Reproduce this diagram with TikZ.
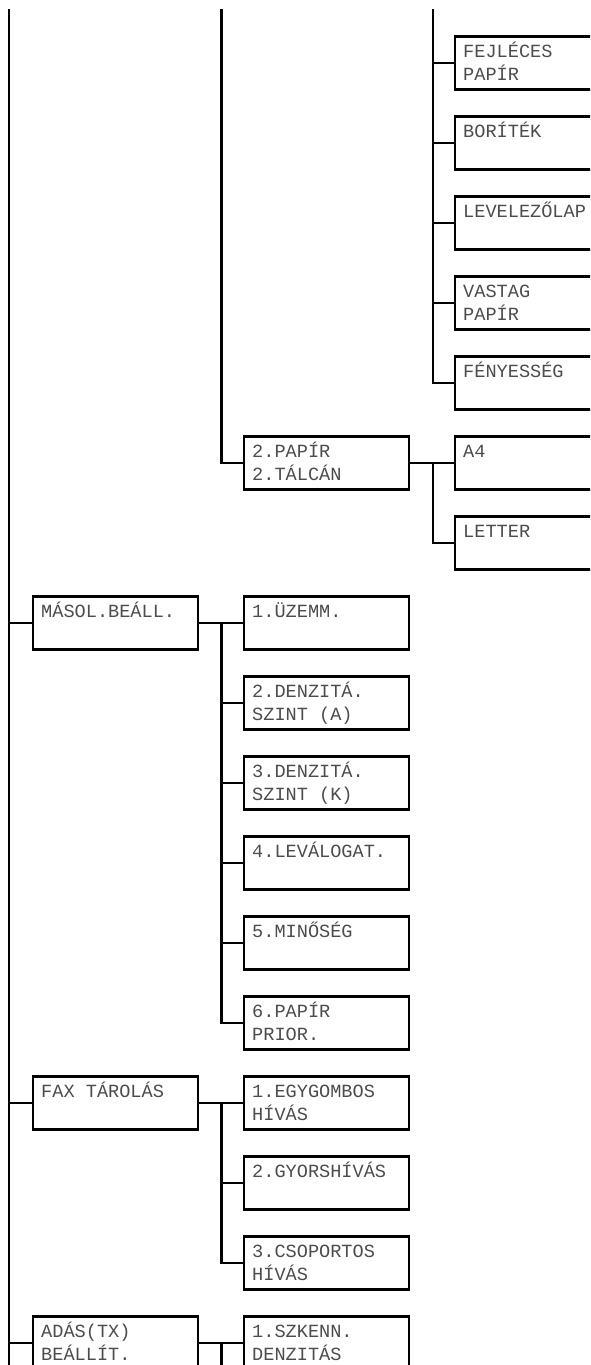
\documentclass[tikz,border=0pt]{standalone}
\usepackage{fontspec}
\setmonofont{Liberation Mono}
\newcommand\twol[2]{\vtop{\baselineskip=23.5pt\hbox{#1}\hbox{#2}}}
\tikzset{
  box/.style={draw=black, line width=2.1pt, minimum width=165pt, minimum height=53pt,
              inner sep=0pt, outer sep=0pt, anchor=north west},
  wbox/.style={box, minimum width=200pt},
  txt/.style={anchor=base west, inner sep=0pt, font=\ttfamily\fontsize{18.6}{23.5}\selectfont, text=black!70},
  ln/.style={line width=2.1pt, draw=black}
}
\begin{document}
\begin{tikzpicture}[x=1pt,y=-1pt]
\useasboundingbox (0,0) rectangle (590,1365);
\clip (0,0) rectangle (590,1365);
% right column
\node[wbox] (fej) at (455,36.5) {};
\node[wbox] (bor) at (455,116.5) {};
\node[wbox] (lev) at (455,196.5) {};
\node[wbox] (vas) at (455,276.5) {};
\node[wbox] (fen) at (455,356.5) {};
\node[wbox] (a4) at (455,436.5) {};
\node[wbox] (letter) at (455,516.5) {};
% middle column
\node[box] (p2) at (244,436.5) {};
\node[box] (m1) at (244,596.5) {};
\node[box] (m2) at (244,676.5) {};
\node[box] (m3) at (244,756.5) {};
\node[box] (m4) at (244,836.5) {};
\node[box] (m5) at (244,916.5) {};
\node[box] (m6) at (244,996.5) {};
\node[box] (f1) at (244,1076.5) {};
\node[box] (f2) at (244,1156.5) {};
\node[box] (f3) at (244,1236.5) {};
\node[box] (s1) at (244,1316.5) {};
% left column
\node[box] (masol) at (33,596.5) {};
\node[box] (fax) at (33,1076.5) {};
\node[box] (adas) at (33,1316.5) {};
% texts
\node[txt] (fejt) at ([shift={(8,20.5)}]fej.north west) {\twol{FEJLÉCES}{PAPÍR}};
\node[txt] (bort) at ([shift={(8,20.5)}]bor.north west) {BORÍTÉK};
\node[txt] (levt) at ([shift={(8,20.5)}]lev.north west) {LEVELEZŐLAP};
\node[txt] (vast) at ([shift={(8,20.5)}]vas.north west) {\twol{VASTAG}{PAPÍR}};
\node[txt] (fent) at ([shift={(8,20.5)}]fen.north west) {FÉNYESSÉG};
\node[txt] (a4t) at ([shift={(8,20.5)}]a4.north west) {A4};
\node[txt] (lettert) at ([shift={(8,20.5)}]letter.north west) {LETTER};
\node[txt] (p2t) at ([shift={(8,20.5)}]p2.north west) {\twol{2.PAPÍR}{2.TÁLCÁN}};
\node[txt] (m1t) at ([shift={(8,20.5)}]m1.north west) {1.ÜZEMM.};
\node[txt] (m2t) at ([shift={(8,20.5)}]m2.north west) {\twol{2.DENZITÁ.}{SZINT (A)}};
\node[txt] (m3t) at ([shift={(8,20.5)}]m3.north west) {\twol{3.DENZITÁ.}{SZINT (K)}};
\node[txt] (m4t) at ([shift={(8,20.5)}]m4.north west) {4.LEVÁLOGAT.};
\node[txt] (m5t) at ([shift={(8,20.5)}]m5.north west) {5.MINŐSÉG};
\node[txt] (m6t) at ([shift={(8,20.5)}]m6.north west) {\twol{6.PAPÍR}{PRIOR.}};
\node[txt] (f1t) at ([shift={(8,20.5)}]f1.north west) {\twol{1.EGYGOMBOS}{HÍVÁS}};
\node[txt] (f2t) at ([shift={(8,20.5)}]f2.north west) {2.GYORSHÍVÁS};
\node[txt] (f3t) at ([shift={(8,20.5)}]f3.north west) {\twol{3.CSOPORTOS}{HÍVÁS}};
\node[txt] (s1t) at ([shift={(8,20.5)}]s1.north west) {\twol{1.SZKENN.}{DENZITÁS}};
\node[txt] (masolt) at ([shift={(8,20.5)}]masol.north west) {MÁSOL.BEÁLL.};
\node[txt] (faxt) at ([shift={(8,20.5)}]fax.north west) {FAX TÁROLÁS};
\node[txt] (adast) at ([shift={(8,20.5)}]adas.north west) {\twol{ADÁS(TX)}{BEÁLLÍT.}};
% spine coordinates
\coordinate (Ltop) at (9,9);
\coordinate (Lbot) at (9,1380);
\coordinate (Mtop) at (221.5,9);
\coordinate (Mbot) at (221.5,1380);
\coordinate (Rtop) at (433,9);
% left spine
\draw[ln] (Ltop) -- (Lbot);
\foreach \n in {masol,fax,adas} \draw[ln] (\n.west -| Ltop) -- (\n.west);
% middle spine from top to 2.PAPIR
\draw[ln] (Mtop) |- (p2.west);
% right spine
\draw[ln] (Rtop) |- (fen.west);
\foreach \n in {fej,bor,lev,vas} \draw[ln] (\n.west -| Rtop) -- (\n.west);
% 2.PAPIR branch
\draw[ln] (p2.east) -- (a4.west);
\draw[ln] (p2.east -| Rtop) |- (letter.west);
% MASOL branch
\draw[ln] (masol.east) -- (m1.west);
\draw[ln] (masol.east -| Mtop) |- (m6.west);
\foreach \n in {m2,m3,m4,m5} \draw[ln] (\n.west -| Mtop) -- (\n.west);
% FAX branch
\draw[ln] (fax.east) -- (f1.west);
\draw[ln] (fax.east -| Mtop) |- (f3.west);
\draw[ln] (f2.west -| Mtop) -- (f2.west);
% ADAS branch
\draw[ln] (adas.east) -- (s1.west);
\draw[ln] (adas.east -| Mtop) -- (Mbot);
\end{tikzpicture}
\end{document}
